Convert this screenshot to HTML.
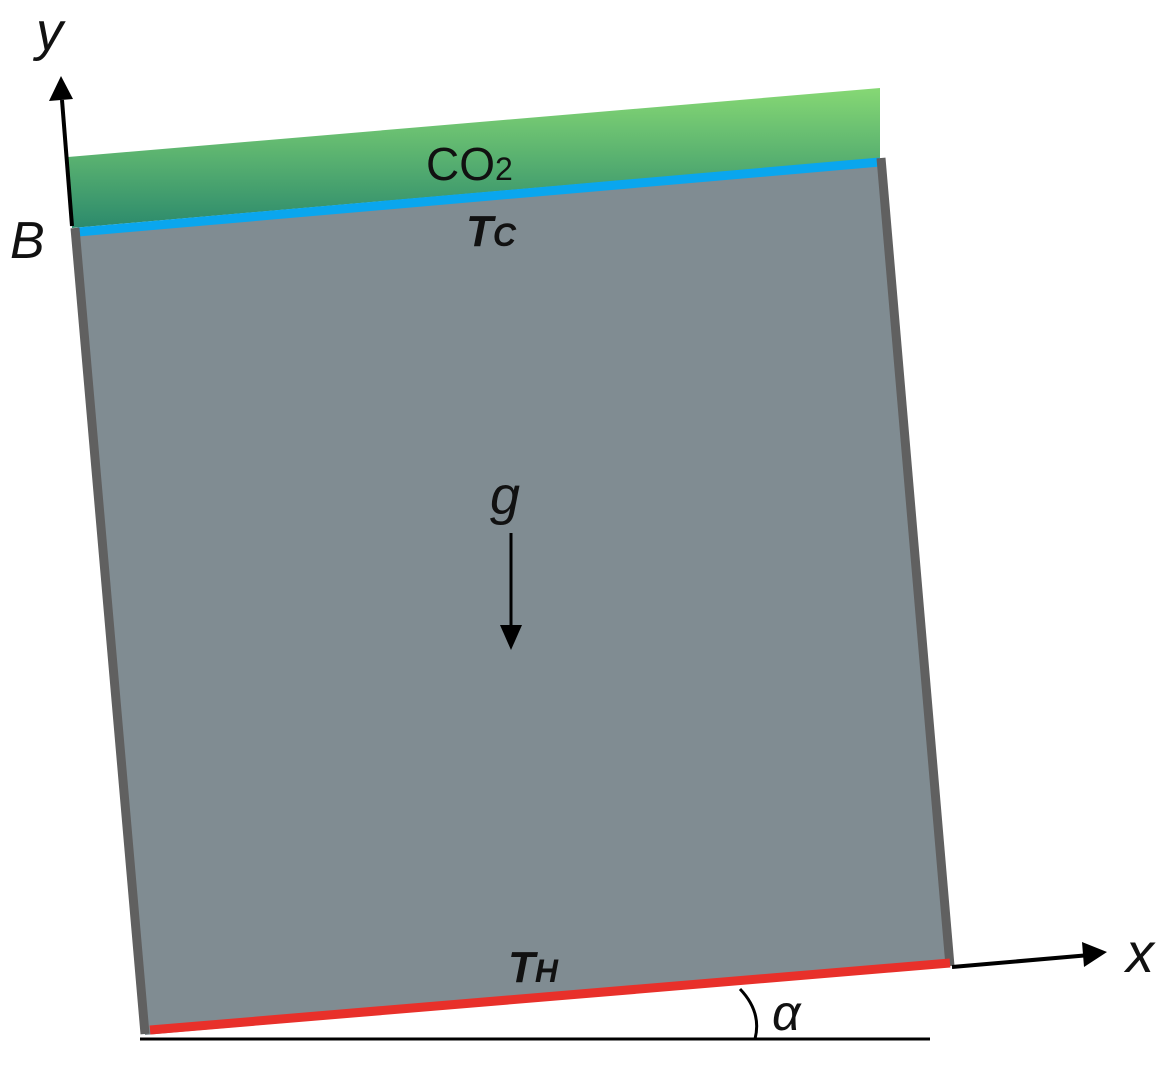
<!DOCTYPE html>
<html><head><meta charset="utf-8"><style>
html,body{margin:0;padding:0;background:#fff;}
svg{display:block;}
text{font-family:"Liberation Sans",sans-serif;}
</style></head><body>
<svg width="1171" height="1068" viewBox="0 0 1171 1068">
<defs>
<linearGradient id="gr" x1="0" y1="0" x2="0" y2="1">
<stop offset="0" stop-color="#86d874"/><stop offset="1" stop-color="#2c8a6c"/>
</linearGradient>
</defs>
<polygon points="68,157 880,88 880,158 72,228" fill="url(#gr)"/>
<polygon points="74,230 880,160 950,965 145,1035" fill="#808c92"/>
<line x1="78" y1="232" x2="880" y2="162" stroke="#0aa6ee" stroke-width="9"/>
<line x1="75" y1="228" x2="145" y2="1034" stroke="#606060" stroke-width="9"/>
<line x1="881" y1="158" x2="950" y2="966" stroke="#606060" stroke-width="9"/>
<line x1="150" y1="1030" x2="950" y2="963" stroke="#e8302a" stroke-width="9"/>
<line x1="952" y1="967" x2="1090" y2="955" stroke="#000" stroke-width="4"/>
<path d="M1082,942 L1107,952 L1084,967 z" fill="#000"/>
<line x1="72" y1="226" x2="62" y2="100" stroke="#000" stroke-width="4"/>
<path d="M49,101 L61,76 L73,99 z" fill="#000"/>
<line x1="140" y1="1039" x2="930" y2="1039" stroke="#000" stroke-width="3"/>
<path d="M740,989 Q762,1012 755,1039" fill="none" stroke="#000" stroke-width="3"/>
<line x1="511" y1="533" x2="511" y2="630" stroke="#000" stroke-width="3"/>
<path d="M500,625 L511,650 L522,625 z" fill="#000"/>
<text x="426" y="180" font-size="46" fill="#111">CO<tspan font-size="32">2</tspan></text>
<text x="466" y="246" font-size="44" font-weight="bold" font-style="italic" fill="#111">T<tspan font-size="32">C</tspan></text>
<text x="508" y="982" font-size="44" font-weight="bold" font-style="italic" fill="#111">T<tspan font-size="32">H</tspan></text>
<text x="490" y="514" font-size="54" font-style="italic" fill="#111">g</text>
<text x="36" y="50" font-size="54" font-style="italic" fill="#111">y</text>
<text x="1126" y="972" font-size="56" font-style="italic" fill="#111">x</text>
<text x="10" y="258" font-size="52" font-style="italic" fill="#111">B</text>
<text x="772" y="1030" font-size="50" font-style="italic" fill="#111" font-family="Liberation Serif, serif">α</text>
</svg>
</body></html>
